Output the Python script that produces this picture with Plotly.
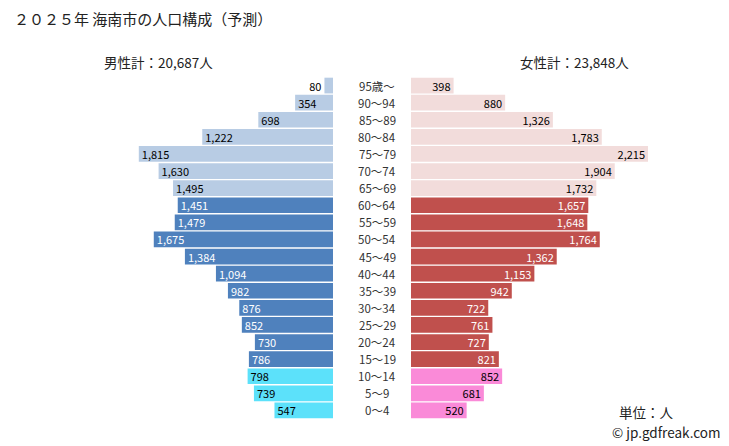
import plotly.graph_objects as go

ages = ["0～4", "5～9", "10～14", "15～19", "20～24", "25～29", "30～34", "35～39",
        "40～44", "45～49", "50～54", "55～59", "60～64", "65～69", "70～74", "75～79",
        "80～84", "85～89", "90～94", "95歳～"]
male = [547, 739, 798, 786, 730, 852, 876, 982, 1094, 1384, 1675, 1479, 1451, 1495,
        1630, 1815, 1222, 698, 354, 80]
female = [520, 681, 852, 821, 727, 761, 722, 942, 1153, 1362, 1764, 1648, 1657, 1732,
          1904, 2215, 1783, 1326, 880, 398]
title = "２０２５年 海南市の人口構成（予測）"
male_total = "男性計：20,687人"
female_total = "女性計：23,848人"

W, H = 729, 446
FONT = "Noto Sans CJK JP"

def group(i):
    if i < 3:
        return 0
    if i < 13:
        return 1
    return 2

male_colors = ["#5ce1fa", "#4f81bd", "#b8cce4"]
female_colors = ["#fa8ad8", "#c0504d", "#f2dcdb"]
text_colors = ["#000000", "#ffffff", "#000000"]

mc = [male_colors[group(i)] for i in range(len(ages))]
fc = [female_colors[group(i)] for i in range(len(ages))]
tc = [text_colors[group(i)] for i in range(len(ages))]

male_pos = ["outside" if v < 150 else "inside" for v in male]
female_pos = ["outside" if v < 150 else "inside" for v in female]

PXU = 0.107  # pixels per person
x_left_end = 333
x_right_start = 411
y_top, y_bot = 77, 419

fig = go.Figure()
fig.add_trace(go.Bar(
    y=ages, x=male, orientation="h", xaxis="x", yaxis="y",
    marker=dict(color=mc, line=dict(width=0)),
    text=[f"{v:,}" for v in male], textposition=male_pos,
    insidetextanchor="end", textangle=0, constraintext="none",
    textfont=dict(color=tc, size=11, family=FONT),
    cliponaxis=False, hoverinfo="skip", showlegend=False))
fig.add_trace(go.Bar(
    y=ages, x=female, orientation="h", xaxis="x2", yaxis="y2",
    marker=dict(color=fc, line=dict(width=0)),
    text=[f"{v:,}" for v in female], textposition=female_pos,
    insidetextanchor="end", textangle=0, constraintext="none",
    textfont=dict(color=tc, size=11, family=FONT),
    cliponaxis=False, hoverinfo="skip", showlegend=False))

ydom = [(H - y_bot) / H, (H - y_top) / H]
yax = dict(domain=ydom, range=[-0.5, len(ages) - 0.5], showticklabels=False,
           showgrid=False, zeroline=False, showline=False, ticks="", fixedrange=True)

annotations = []
for a in ages:
    annotations.append(dict(x=377 / W, y=a, xref="paper", yref="y", text=a,
                            showarrow=False, xanchor="center", yanchor="middle",
                            font=dict(size=11.5, color="#333333", family=FONT)))
annotations += [
    dict(x=12 / W, y=1 - 18 / H, xref="paper", yref="paper", text=title, showarrow=False,
         xanchor="left", yanchor="middle", font=dict(size=15, color="#222222", family=FONT)),
    dict(x=158 / W, y=1 - 62 / H, xref="paper", yref="paper", text=male_total, showarrow=False,
         xanchor="center", yanchor="middle", font=dict(size=13.5, color="#222222", family=FONT)),
    dict(x=574 / W, y=1 - 62 / H, xref="paper", yref="paper", text=female_total, showarrow=False,
         xanchor="center", yanchor="middle", font=dict(size=13.5, color="#222222", family=FONT)),
    dict(x=646 / W, y=1 - 412 / H, xref="paper", yref="paper", text="単位：人", showarrow=False,
         xanchor="center", yanchor="middle", font=dict(size=13.5, color="#222222", family=FONT)),
    dict(x=666 / W, y=1 - 432 / H, xref="paper", yref="paper", text="© jp.gdfreak.com",
         showarrow=False, xanchor="center", yanchor="middle",
         font=dict(size=13.5, color="#222222", family=FONT)),
]

fig.update_layout(
    width=W, height=H, margin=dict(l=0, r=0, t=0, b=0),
    paper_bgcolor="white", plot_bgcolor="white",
    bargap=0.08,
    font=dict(family=FONT),
    xaxis=dict(domain=[0, x_left_end / W], range=[x_left_end / PXU, 0], visible=False,
               fixedrange=True),
    xaxis2=dict(domain=[x_right_start / W, 1], range=[0, (W - x_right_start) / PXU],
                visible=False, fixedrange=True),
    yaxis=dict(**yax, anchor="x"),
    yaxis2=dict(**yax, anchor="x2"),
    annotations=annotations,
    uniformtext=dict(mode=False),
)

fig.write_html("out.html", config={"displayModeBar": False},
               post_script="document.body.style.margin='0';document.body.style.overflow='hidden';")
